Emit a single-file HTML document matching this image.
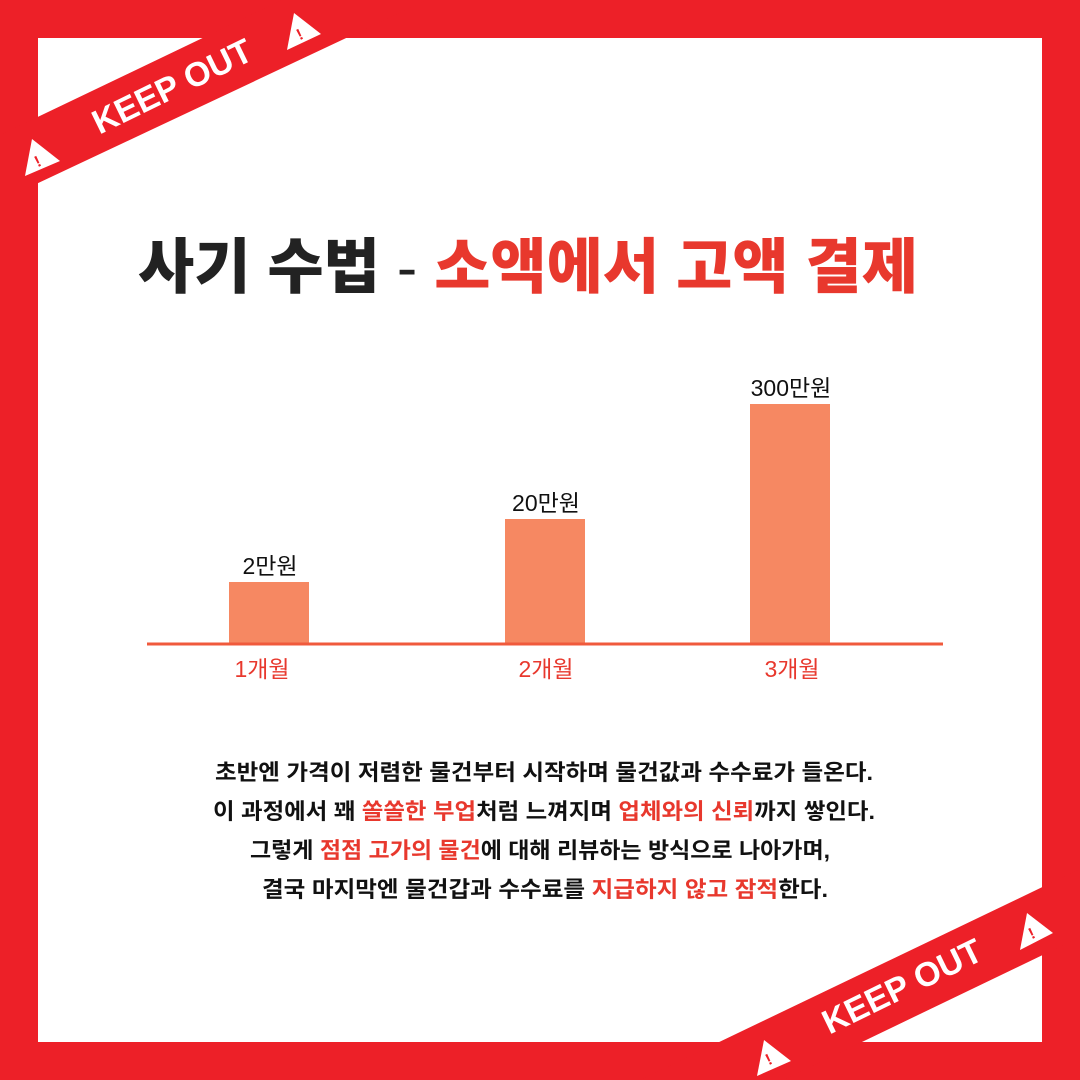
<!DOCTYPE html>
<html><head><meta charset="utf-8"><style>
html,body{margin:0;padding:0;background:#fff;}
svg{display:block;}
.ko{font-family:"Liberation Sans","Noto Sans CJK KR",sans-serif;}
</style></head><body>
<svg id="root" width="1080" height="1080" viewBox="0 0 1080 1080" xmlns="http://www.w3.org/2000/svg">
  <rect x="0" y="0" width="1080" height="1080" fill="#ed2028"/>
  <rect x="38" y="38" width="1004" height="1004" fill="#ffffff"/>

  <g>
    <polygon points="0,135 282,0 427,0 0,201" fill="#ed2028"/>
    <polygon points="32,139 25,176 60,161" fill="#ffffff"/>
    <text x="35" y="168" font-family="Liberation Sans, sans-serif" font-weight="bold" font-size="16" fill="#ed2028" transform="rotate(-26 35 162)">!</text>
    <polygon points="294,13 287,50 321,34" fill="#ffffff"/>
    <text x="297" y="41" font-family="Liberation Sans, sans-serif" font-weight="bold" font-size="16" fill="#ed2028" transform="rotate(-26 297 35)">!</text>
    <text x="172" y="98" text-anchor="middle" font-family="Liberation Sans, sans-serif" font-weight="bold" font-size="34" fill="#ffffff" transform="rotate(-26 172 86)">KEEP OUT</text>
  </g>

  <g>
    <polygon points="640,1080 1080,869 1080,937 783,1080" fill="#ed2028"/>
    <polygon points="764,1040 757,1076 791,1061" fill="#ffffff"/>
    <text x="766" y="1066" font-family="Liberation Sans, sans-serif" font-weight="bold" font-size="16" fill="#ed2028" transform="rotate(-26 766 1060)">!</text>
    <polygon points="1027,913 1020,950 1053,933" fill="#ffffff"/>
    <text x="1029" y="940" font-family="Liberation Sans, sans-serif" font-weight="bold" font-size="16" fill="#ed2028" transform="rotate(-26 1029 934)">!</text>
    <text x="902" y="998" text-anchor="middle" font-family="Liberation Sans, sans-serif" font-weight="bold" font-size="34" fill="#ffffff" transform="rotate(-26 902 986)">KEEP OUT</text>
  </g>

  <text class="ko" x="138" y="288" textLength="780" lengthAdjust="spacingAndGlyphs" font-size="60" font-weight="900"><tspan fill="#222222">사기 수법 </tspan><tspan fill="#222222" font-weight="400">-</tspan><tspan fill="#222222"> </tspan><tspan fill="#e8382d">소액에서 고액 결제</tspan></text>

  <g id="chart"></g>

  <g class="ko" font-size="22" font-weight="bold" fill="#111111" text-anchor="middle">
    <text x="544" y="780" textLength="658" lengthAdjust="spacingAndGlyphs">초반엔 가격이 저렴한 물건부터 시작하며 물건값과 수수료가 들온다.</text>
    <text x="544" y="819" textLength="662" lengthAdjust="spacingAndGlyphs">이 과정에서 꽤 <tspan fill="#e8382d">쏠쏠한 부업</tspan>처럼 느껴지며 <tspan fill="#e8382d">업체와의 신뢰</tspan>까지 쌓인다.</text>
    <text x="540" y="858" textLength="580" lengthAdjust="spacingAndGlyphs">그렇게 <tspan fill="#e8382d">점점 고가의 물건</tspan>에 대해 리뷰하는 방식으로 나아가며,</text>
    <text x="545" y="897" textLength="566" lengthAdjust="spacingAndGlyphs">결국 마지막엔 물건갑과 수수료를 <tspan fill="#e8382d">지급하지 않고 잠적</tspan>한다.</text>
  </g>
</svg>
<script>
const categories = ['1개월', '2개월', '3개월'];
const valueLabels = ['2만원', '20만원', '300만원'];
const barValues = [31, 62.5, 120];

const NS = 'http://www.w3.org/2000/svg';
const chart = document.getElementById('chart');
const baseY = 644;
const yScale = v => baseY - v * 2;
const xCenters = [269, 545, 790];
const labelCenters = [262, 546, 792];
const xScale = i => xCenters[i];
const barW = 80;

const axis = document.createElementNS(NS, 'line');
axis.setAttribute('x1', 147); axis.setAttribute('x2', 943);
axis.setAttribute('y1', baseY); axis.setAttribute('y2', baseY);
axis.setAttribute('stroke', '#f05a3c'); axis.setAttribute('stroke-width', 3);


chart.appendChild(axis);

categories.forEach((c, i) => {
  const x = xScale(i);
  const top = yScale(barValues[i]);
  const r = document.createElementNS(NS, 'rect');
  r.setAttribute('x', x - barW / 2); r.setAttribute('y', top);
  r.setAttribute('width', barW); r.setAttribute('height', baseY - 1.5 - top);
  r.setAttribute('fill', '#f68862');
  
  
  chart.insertBefore(r, axis);

  const vl = document.createElementNS(NS, 'text');
  vl.setAttribute('x', x + 1); vl.setAttribute('y', top - 8);
  vl.setAttribute('text-anchor', 'middle');
  vl.setAttribute('class', 'ko');
  vl.setAttribute('font-size', '23');
  vl.setAttribute('fill', '#111111');
  vl.textContent = valueLabels[i];
  
  
  chart.appendChild(vl);

  const cl = document.createElementNS(NS, 'text');
  cl.setAttribute('x', labelCenters[i]); cl.setAttribute('y', 677);
  cl.setAttribute('text-anchor', 'middle');
  cl.setAttribute('class', 'ko');
  cl.setAttribute('font-size', '23');
  cl.setAttribute('fill', '#e8382d');
  cl.textContent = c;
  
  
  chart.appendChild(cl);
});
</script>
</body></html>
